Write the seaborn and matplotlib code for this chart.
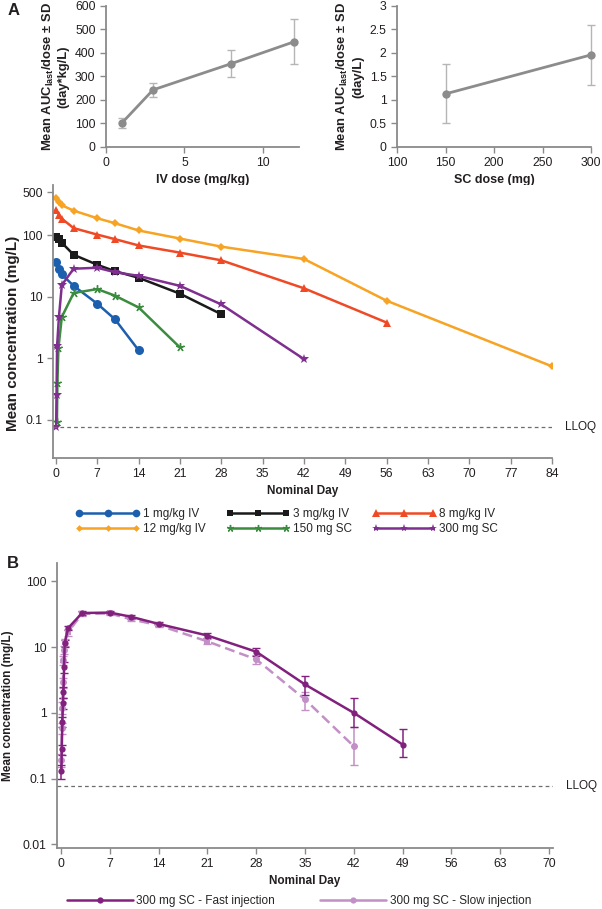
import numpy as np
import matplotlib
matplotlib.use("Agg")
import matplotlib.pyplot as plt
from matplotlib.lines import Line2D
from matplotlib.ticker import FixedLocator, NullLocator
import seaborn as sns

# ---- Panel A, top: AUC/dose vs dose
iv_dose = [1, 3, 8, 12]
iv_auc = [101, 243, 355, 448]
iv_sd = [22, 30, 59, 95]
sc_dose = [150, 300]
sc_auc = [1.13, 1.96]
sc_sd = [0.63, 0.64]

# ---- Panel A, bottom: mean concentration by cohort
day_1mg = [0.04, 0.5, 1, 3, 7, 10, 14]
conc_1mg = [36, 28, 23, 15, 7.7, 4.3, 1.35]
day_3mg = [0.04, 0.5, 1, 3, 7, 10, 14, 21, 28]
conc_3mg = [92, 85, 75, 48, 33, 26, 20.3, 11.2, 5.2]
day_8mg = [0.04, 0.5, 1, 3, 7, 10, 14, 21, 28, 42, 56]
conc_8mg = [260, 215, 185, 130, 102, 86, 68, 52, 39, 13.7, 3.8]
day_12mg = [0.04, 0.5, 1, 3, 7, 10, 14, 21, 28, 42, 56, 84]
conc_12mg = [405, 345, 305, 250, 188, 156, 119, 88, 65, 41, 8.6, 0.74]
day_150sc = [0.17, 0.25, 0.42, 1, 3, 7, 10, 14, 21]
conc_150sc = [0.094, 0.40, 1.45, 4.7, 11.5, 13.3, 10.4, 6.7, 1.5]
day_300sc = [0.04, 0.1, 0.2, 0.5, 1, 3, 7, 10, 14, 21, 28, 42]
conc_300sc = [0.078, 0.25, 1.6, 4.6, 15.5, 28.5, 29.5, 25, 21.8, 15, 7.5, 0.97]

# ---- Panel B: fast vs slow injection
fast_day = [0.04, 0.08, 0.17, 0.25, 0.33, 0.42, 0.5, 1, 3, 7, 10, 14, 21, 28, 35, 42, 49]
fast_conc = [0.13, 0.28, 0.72, 1.4, 2.1, 5.0, 11.5, 19.5, 33, 33.5, 29, 22.5, 15, 8.5, 2.7, 1.0, 0.33]
fast_lo = [0.10, 0.23, 0.6, 1.15, 1.7, 4.0, 10, 18, 31, 31.5, 27, 21, 13.8, 7.3, 1.9, 0.6, 0.21]
fast_hi = [0.16, 0.33, 0.85, 1.7, 2.5, 6.0, 13, 21, 35, 35.5, 31, 24, 16.2, 9.8, 3.7, 1.7, 0.56]
slow_day = [0.04, 0.08, 0.17, 0.25, 0.33, 0.42, 0.5, 1, 3, 7, 10, 14, 21, 28, 35, 42]
slow_conc = [0.19, 0.58, 1.2, 2.9, 6.3, 9.0, 12, 17, 32, 32.5, 26.5, 21.5, 12.2, 6.5, 1.6, 0.31]
slow_lo = [0.15, 0.47, 0.95, 2.4, 5.3, 7.8, 10.5, 15, 30, 30.5, 25, 20, 11, 5.5, 1.1, 0.16]
slow_hi = [0.24, 0.70, 1.45, 3.4, 7.3, 10.3, 13.5, 19, 34, 34.5, 28, 23, 13.5, 7.6, 2.1, 0.62]

LLOQ = 0.078

sns.set_theme(style="ticks")
plt.rcParams["font.family"] = ["Liberation Sans", "DejaVu Sans"]
plt.rcParams["mathtext.fontset"] = "custom"
plt.rcParams["mathtext.rm"] = "Liberation Sans"
plt.rcParams["mathtext.bf"] = "Liberation Sans:bold"

FS = 8.5
TICK = 8.8
SPINE = "#8a8a8a"
TXT = "#231f20"


def style(ax):
    sns.despine(ax=ax)
    for s in ["left", "bottom"]:
        ax.spines[s].set_color(SPINE)
        ax.spines[s].set_linewidth(1.3)
    ax.tick_params(colors=SPINE, labelcolor=TXT, labelsize=TICK, length=4, width=1)


fig = plt.figure(figsize=(6.02, 9.09), dpi=100)

# ---------- top left
ax1 = fig.add_axes([0.176, 0.8383, 0.3206, 0.1551])
ax1.errorbar(iv_dose, iv_auc, yerr=iv_sd, fmt="none", ecolor="#b5b5b5",
             elinewidth=1, capsize=3, clip_on=False)
sns.lineplot(x=iv_dose, y=iv_auc, ax=ax1, color="#8c8c8c", marker="o",
             markersize=6, markeredgewidth=0, linewidth=2, clip_on=False)
ax1.set_xlim(0, 12.3)
ax1.set_ylim(0, 600)
ax1.set_xticks([0, 5, 10])
ax1.set_yticks(range(0, 601, 100))
ax1.set_xlabel("IV dose (mg/kg)", fontsize=9, fontweight="bold", color=TXT, labelpad=3)
ax1.set_ylabel("Mean AUC$_{\\mathregular{last}}$/dose ± SD\n(day*kg/L)",
               fontsize=9.4, fontweight="bold", color=TXT, labelpad=4)
style(ax1)

# ---------- top right
ax2 = fig.add_axes([0.6595, 0.8383, 0.3223, 0.1551])
ax2.errorbar(sc_dose, sc_auc, yerr=sc_sd, fmt="none", ecolor="#b5b5b5",
             elinewidth=1, capsize=3, clip_on=False)
sns.lineplot(x=sc_dose, y=sc_auc, ax=ax2, color="#8c8c8c", marker="o",
             markersize=6, markeredgewidth=0, linewidth=2, clip_on=False)
ax2.set_xlim(100, 300)
ax2.set_ylim(0, 3)
ax2.set_xticks([100, 150, 200, 250, 300])
ax2.set_yticks([0, 0.5, 1, 1.5, 2, 2.5, 3])
ax2.set_yticklabels(["0", "0.5", "1", "1.5", "2", "2.5", "3"])
ax2.set_xlabel("SC dose (mg)", fontsize=9, fontweight="bold", color=TXT, labelpad=3)
ax2.set_ylabel("Mean AUC$_{\\mathregular{last}}$/dose ± SD\n(day/L)",
               fontsize=9.4, fontweight="bold", color=TXT, labelpad=4)
style(ax2)

# ---------- middle concentration panel
ax3 = fig.add_axes([0.088, 0.4961, 0.829, 0.3003])
series = [
    ("1 mg/kg IV", day_1mg, conc_1mg, "#1c5fae", dict(marker="o", markersize=6.5)),
    ("3 mg/kg IV", day_3mg, conc_3mg, "#1a1a1a", dict(marker="s", markersize=5.5)),
    ("8 mg/kg IV", day_8mg, conc_8mg, "#ef4a25", dict(marker="^", markersize=6)),
    ("12 mg/kg IV", day_12mg, conc_12mg, "#f7a323", dict(marker="D", markersize=4)),
    ("150 mg SC", day_150sc, conc_150sc, "#3b8c3f", dict(marker=(5, 2), markersize=6, markeredgewidth=1)),
    ("300 mg SC", day_300sc, conc_300sc, "#7f2f8f", dict(marker="*", markersize=7)),
]
handles = {}
for name, d, c, col, mk in series:
    kw = dict(markeredgewidth=0)
    kw.update(mk)
    sns.lineplot(x=d, y=c, ax=ax3, color=col, linewidth=1.8,
                 markeredgecolor=col, label=name, **kw)
    hk = dict(kw)
    hk["markersize"] = kw["markersize"] * 0.85
    handles[name] = Line2D([], [], color=col, linewidth=1.8,
                           markeredgecolor=col, **hk)
ax3.get_legend().remove()
ax3.axhline(LLOQ, color="#6d6d6d", linewidth=0.9, linestyle=(0, (3, 2.5)))
ax3.set_yscale("log")
ax3.set_ylim(0.024, 650)
ax3.set_xlim(-0.5, 84)
ax3.yaxis.set_major_locator(FixedLocator([0.1, 1, 10, 100, 500]))
ax3.yaxis.set_minor_locator(NullLocator())
ax3.set_yticklabels(["0.1", "1", "10", "100", "500"])
ax3.set_xticks(range(0, 85, 7))
ax3.set_xlabel("Nominal Day", fontsize=FS, fontweight="bold", color=TXT, labelpad=3)
ax3.set_ylabel("Mean concentration (mg/L)", fontsize=11, fontweight="bold", color=TXT)
ax3.yaxis.set_label_coords(-0.066, 0.455)
ax3.text(1.026, LLOQ, "LLOQ", transform=ax3.get_yaxis_transform(), fontsize=FS,
         color=TXT, va="center", ha="left")
style(ax3)

order = ["1 mg/kg IV", "12 mg/kg IV", "3 mg/kg IV", "150 mg SC", "8 mg/kg IV", "300 mg SC"]
fig.legend([handles[k] for k in order], order, ncol=3, frameon=False,
           loc="upper left", bbox_to_anchor=(0.126, 0.4412), fontsize=FS,
           numpoints=3, handlelength=5.4, handletextpad=0.25, columnspacing=1.75,
           labelspacing=0.3, borderpad=0, borderaxespad=0)

# ---------- panel B
ax4 = fig.add_axes([0.0947, 0.0671, 0.824, 0.3135])
FAST = "#82217d"
SLOW = "#c28fc6"
fd = np.array(fast_day); fc = np.array(fast_conc)
sd = np.array(slow_day); scn = np.array(slow_conc)
ax4.errorbar(sd, scn, yerr=[scn - np.array(slow_lo), np.array(slow_hi) - scn],
             fmt="none", ecolor=SLOW, elinewidth=1.1, capsize=3)
ax4.errorbar(fd, fc, yerr=[fc - np.array(fast_lo), np.array(fast_hi) - fc],
             fmt="none", ecolor=FAST, elinewidth=1.1, capsize=3)
sns.lineplot(x=sd, y=scn, ax=ax4, color=SLOW, linewidth=1.8, linestyle=(0, (4, 2)))
mid = (sd >= 0.5) & (sd <= 21)
ax4.plot(sd[~mid], scn[~mid], "o", color=SLOW, markersize=5, markeredgewidth=0)
ax4.plot(sd[mid], scn[mid], "s", color=SLOW, markersize=5, markeredgewidth=0)
sns.lineplot(x=fd, y=fc, ax=ax4, color=FAST, linewidth=1.8, marker="o",
             markersize=4.5, markeredgewidth=0)
ax4.axhline(LLOQ, color="#6d6d6d", linewidth=0.9, linestyle=(0, (3, 2.5)))
ax4.set_yscale("log")
ax4.set_ylim(0.0088, 190)
ax4.set_xlim(-0.6, 70.6)
ax4.yaxis.set_major_locator(FixedLocator([0.01, 0.1, 1, 10, 100]))
ax4.yaxis.set_minor_locator(NullLocator())
ax4.set_yticklabels(["0.01", "0.1", "1", "10", "100"])
ax4.set_xticks(range(0, 71, 7))
ax4.set_xlabel("Nominal Day", fontsize=FS, fontweight="bold", color=TXT, labelpad=3)
ax4.set_ylabel("Mean concentration (mg/L)", fontsize=FS, fontweight="bold", color=TXT, labelpad=6)
ax4.text(1.026, LLOQ, "LLOQ", transform=ax4.get_yaxis_transform(), fontsize=FS,
         color=TXT, va="center", ha="left")
style(ax4)

hB = [Line2D([], [], color=FAST, linewidth=1.8, marker="o", markersize=4.5, markeredgewidth=0),
      Line2D([], [], color=SLOW, linewidth=1.8, marker="o", markersize=4.5, markeredgewidth=0)]
fig.legend(hB, ["300 mg SC - Fast injection", "300 mg SC - Slow injection"], ncol=2,
           frameon=False, loc="upper left", bbox_to_anchor=(0.111, 0.0150),
           fontsize=FS, numpoints=1, handlelength=5.6, handletextpad=0.3,
           columnspacing=3.8, borderpad=0, borderaxespad=0)

fig.text(0.012, 0.997, "A", fontsize=12, fontweight="bold", va="top", color=TXT)
fig.text(0.012, 0.388, "B", fontsize=12, fontweight="bold", va="top", color=TXT)

fig.savefig("out.png", dpi=100)
